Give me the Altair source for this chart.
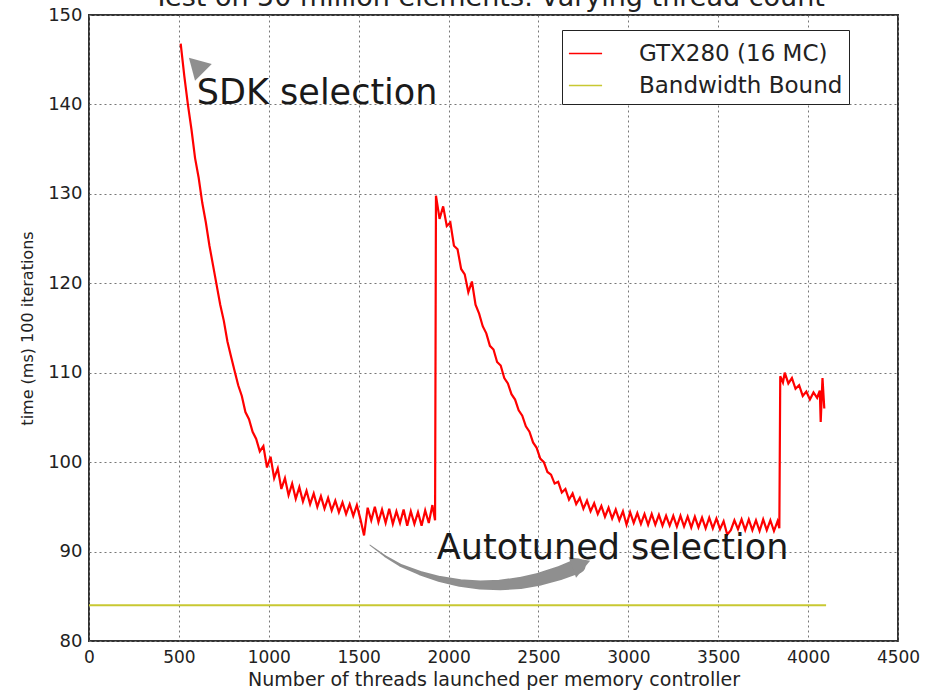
import altair as alt
import pandas as pd

# ---- data ----
seg1_start, seg1_step = 510, 20
seg1_y = [146.8, 143.2, 140.0, 137.2, 134.0, 131.8, 129.0, 126.8, 124.2, 122.0,
          119.8, 117.6, 115.8, 113.5, 111.8, 110.2, 108.6, 107.4, 105.6, 104.8,
          103.4, 102.6, 101.2, 101.8, 99.4, 100.6, 98.2, 99.3, 97.0, 98.2,
          96.3, 97.6, 95.9, 97.2, 95.6, 96.8, 95.3, 96.5, 95.0, 96.2,
          94.8, 96.0, 94.6, 95.7, 94.4, 95.5, 94.2, 95.3, 94.0, 95.2,
          93.6, 91.8, 94.9, 93.5, 95.0, 93.3, 94.7, 93.2, 94.8, 93.1,
          94.5, 93.2, 94.7, 92.9, 94.5, 93.1, 94.4, 92.9, 94.6, 93.2, 95.2]
jump1_x = [1925]
jump1_y = [93.5]
seg2_start, seg2_step = 1930, 20
seg2_y = [129.8, 127.2, 128.6, 126.4, 126.8, 124.2, 123.8, 121.6, 121.0, 119.0,
          120.2, 117.6, 116.6, 115.2, 114.4, 113.0, 112.6, 111.2, 110.8, 109.4,
          108.8, 107.6, 107.0, 105.8, 105.2, 104.0, 103.4, 102.2, 101.6, 100.4,
          100.0, 98.9, 98.6, 97.6, 97.8, 96.6, 97.0, 95.8, 96.5, 95.3,
          96.0, 94.8, 95.7, 94.5, 95.4, 94.2, 95.1, 93.9, 94.9, 93.7,
          94.7, 93.5, 94.5, 93.0, 94.4, 93.2, 94.3, 93.1, 94.2, 93.0,
          94.2, 93.0, 94.1, 92.9, 94.0, 92.9, 94.0, 92.8, 94.0, 92.8,
          93.9, 92.7, 93.9, 92.7, 93.8, 92.6, 93.8, 92.6, 93.7, 92.5,
          93.4, 91.9, 92.4, 93.5, 92.5, 93.6, 92.4, 93.6, 92.4, 93.5,
          92.3, 93.6, 92.4, 93.5, 92.3, 93.4]
seg3_x = [3840, 3845, 3860, 3870, 3890, 3910, 3930, 3950, 3970, 3990,
          4010, 4030, 4050, 4065, 4070, 4080, 4090]
seg3_y = [92.6, 109.6, 108.9, 110.0, 108.8, 109.4, 108.2, 108.6, 107.4, 107.9,
          107.0, 107.8, 107.2, 108.0, 104.5, 109.4, 106.0]

bound_x = [0, 4100]
bound_y = [84, 84]

series_names = ["GTX280 (16 MC)", "Bandwidth Bound"]
series_colors = ["#ff0000", "#c8c832"]

x_ticks = [0, 500, 1000, 1500, 2000, 2500, 3000, 3500, 4000, 4500]
y_ticks = [80, 90, 100, 110, 120, 130, 140, 150]

title_text = "Test on 50 million elements: varying thread count"
x_title = "Number of threads launched per memory controller"
y_title = "time (ms) 100 iterations"

# annotations
sdk_label = ["SDK selection"]
sdk_pos = [600, 141.3]
sdk_head = [596, 144.4]
auto_label = ["Autotuned selection"]
auto_pos = [1935, 90.4]
swoosh_x = [1563, 1646, 1730, 1841, 1952, 2063, 2175, 2286, 2397, 2508, 2620, 2720]
swoosh_y = [90.73, 89.50, 88.49, 87.60, 86.93, 86.48, 86.26, 86.26, 86.48, 86.93, 87.60, 88.38]
swoosh_w = [1, 2, 3, 4.5, 6, 7.5, 9, 10.5, 12, 13, 14, 15]
auto_head = [2738, 88.6]

# ---- build tables ----
gx = ([seg1_start + i * seg1_step for i in range(len(seg1_y))] + jump1_x +
      [seg2_start + i * seg2_step for i in range(len(seg2_y))] + seg3_x)
gy = seg1_y + jump1_y + seg2_y + seg3_y
df = pd.DataFrame({"x": gx + bound_x, "y": gy + bound_y,
                   "series": [series_names[0]] * len(gx) + [series_names[1]] * len(bound_x),
                   "order": list(range(len(gx))) + [0, 1]})

xs = alt.Scale(domain=[0, 4500], nice=False, zero=False)
ys = alt.Scale(domain=[80, 150], nice=False, zero=False)

lines = alt.Chart(df).mark_line(strokeWidth=2.2, clip=True).encode(
    x=alt.X("x:Q", scale=xs, title=x_title,
            axis=alt.Axis(values=x_ticks, format="d", labelFontSize=17,
                          titleFontSize=19, labelPadding=8, titlePadding=5,
                          ticks=False, labelFlush=False)),
    y=alt.Y("y:Q", scale=ys, title=y_title,
            axis=alt.Axis(values=y_ticks, format="d", labelFontSize=18,
                          titleFontSize=16, labelPadding=7, titlePadding=12,
                          ticks=False, labelFlush=False)),
    color=alt.Color("series:N",
                    scale=alt.Scale(domain=series_names, range=series_colors),
                    legend=alt.Legend(title=None, orient="none", legendX=473, legendY=15,
                                      strokeColor="#222", fillColor="white",
                                      padding=6, symbolType="stroke",
                                      symbolSize=1100, symbolStrokeWidth=1.5,
                                      labelFontSize=23, labelOffset=36,
                                      rowPadding=2, labelLimit=400,
                                      labelColor="#222")),
    order="order:Q",
)

sw = pd.DataFrame({"x": swoosh_x, "y": swoosh_y, "w": swoosh_w})
swoosh = alt.Chart(sw).mark_trail(color="#8f8f8f").encode(
    x=alt.X("x:Q", scale=xs), y=alt.Y("y:Q", scale=ys),
    size=alt.Size("w:Q", scale=None, legend=None))

heads = pd.DataFrame({"x": [sdk_head[0], auto_head[0]], "y": [sdk_head[1], auto_head[1]],
                      "a": [315, 70], "s": [560, 480]})
head_marks = alt.Chart(heads).mark_point(shape="triangle-up", filled=True, color="#8f8f8f",
                                         opacity=1).encode(
    x=alt.X("x:Q", scale=xs), y=alt.Y("y:Q", scale=ys),
    angle=alt.Angle("a:Q", scale=None),
    size=alt.Size("s:Q", scale=None, legend=None))

texts = pd.DataFrame({"x": [sdk_pos[0], auto_pos[0]], "y": [sdk_pos[1], auto_pos[1]],
                      "t": sdk_label + auto_label})
text_marks = alt.Chart(texts).mark_text(align="left", baseline="middle", fontSize=35,
                                        color="#1a1a1a").encode(
    x=alt.X("x:Q", scale=xs), y=alt.Y("y:Q", scale=ys), text="t:N")

title_mark = alt.Chart(pd.DataFrame({"t": [title_text]})).mark_text(
    fontSize=27, baseline="alphabetic", align="center", color="#222").encode(
    x=alt.value(400), y=alt.value(-9), text="t:N")

chart = alt.layer(lines, swoosh, head_marks, text_marks, title_mark).properties(
    width=809, height=626,
    autosize=alt.AutoSizeParams(type="none"),
    padding={"left": 89, "top": 15, "right": 29, "bottom": 54},
).configure_view(stroke="#333", strokeWidth=2).configure_axis(
    grid=True, gridColor="#777", gridDash=[2, 3], gridWidth=1,
    domain=False, labelColor="#222", titleColor="#222",
    labelFont="DejaVu Sans", titleFont="DejaVu Sans", titleFontWeight="normal",
).configure_legend(labelFont="DejaVu Sans").configure_text(font="DejaVu Sans")

chart.save("out.html", embed_options={"renderer": "svg", "actions": False})
